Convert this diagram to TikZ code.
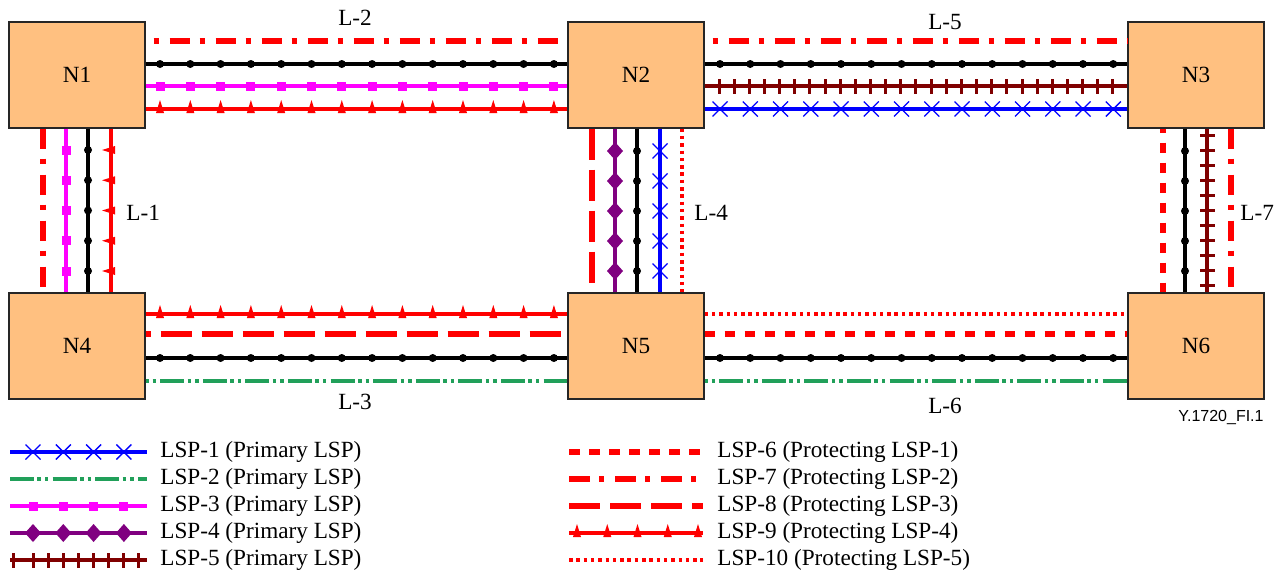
\documentclass[tikz,border=0pt]{standalone}
\usepackage{fontspec}
\setmainfont{Liberation Serif}
\setsansfont{Liberation Sans}
\usetikzlibrary{positioning,calc}
\definecolor{nodefill}{HTML}{FFC080}
\definecolor{lspblue}{HTML}{0000FF}
\definecolor{lspgreen}{HTML}{21A05A}
\definecolor{lspmagenta}{HTML}{FF00FF}
\definecolor{lsppurple}{HTML}{800080}
\definecolor{lspdark}{HTML}{800000}
\definecolor{lspred}{HTML}{FF0000}

\begin{document}
\begin{tikzpicture}[x=0.5pt,y=-0.5pt,font=\fontsize{11.6}{13}\selectfont,
  nebox/.style={draw=black!85,line width=0.6pt,fill=nodefill,minimum width=68pt,minimum height=53pt,inner sep=0pt},
  lbl/.style={inner sep=0pt},
  link/.style={black,line width=2pt},
  lsp1/.style={lspblue,line width=2pt},
  lsp2/.style={lspgreen,line width=1.8pt,dash pattern=on 12pt off 1.7pt on 1.8pt off 2pt on 1.7pt off 2.1pt},
  lsp3/.style={lspmagenta,line width=2pt},
  lsp4/.style={lsppurple,line width=2pt},
  lsp5/.style={lspdark,line width=2pt},
  lsp6/.style={lspred,line width=3pt,dash pattern=on 5.35pt off 4.65pt},
  lsp7/.style={lspred,line width=3pt,dash pattern=on 10.35pt off 4.65pt on 2.65pt off 5.35pt},
  lsp8/.style={lspred,line width=2.9pt,dash pattern=on 15.5pt off 5pt},
  lsp9/.style={lspred,line width=2pt},
  lsp10/.style={lspred,line width=1.8pt,dash pattern=on 1.75pt off 1.9pt},
  dotmark/.pic={\fill[black] (0,0) circle[radius=4];},
  sqmark/.pic={\fill[lspmagenta] (-4.5,-4.5) rectangle (4.5,4.5);},
  triup/.pic={\fill[lspred] (-4,4) -- (4,4) -- (0,-9) -- cycle;},
  trileft/.pic={\fill[lspred] (4,-4) -- (4,4) -- (-9,0) -- cycle;},
  xmark/.pic={\draw[lspblue,line width=0.7pt] (-7.5,-7.5) -- (7.5,7.5) (-7.5,7.5) -- (7.5,-7.5);},
  dmdmark/.pic={\fill[lsppurple] (-8,0) -- (0,-9) -- (8,0) -- (0,9) -- cycle;},
  vtick/.pic={\fill[lspdark] (-1.5,-7.5) rectangle (1.5,7.5);},
  htick/.pic={\fill[lspdark] (-7.5,-1.5) rectangle (7.5,1.5);}]
\useasboundingbox (0,0) rectangle (1281,573);

% network elements
\node[nebox] (N1) at (77,75) {N1};
\node[nebox] (N2) at (636,75) {N2};
\node[nebox] (N3) at (1196,75) {N3};
\node[nebox] (N4) at (77,346) {N4};
\node[nebox] (N5) at (636,346) {N5};
\node[nebox] (N6) at (1196,346) {N6};

% L-2 and L-5
\draw[lsp7,dash phase=11pt] (N1.east |- 0,41) -- (N2.west |- 0,41);
\draw[link] (N1.east |- 0,64) -- (N2.west |- 0,64);
\draw[lsp3] (N1.east |- 0,86) -- (N2.west |- 0,86);
\draw[lsp9] (N1.east |- 0,109) -- (N2.west |- 0,109);
\draw[lsp7,dash phase=11pt] (N2.east |- 0,41) -- (N3.west |- 0,41);
\draw[link] (N2.east |- 0,64) -- (N3.west |- 0,64);
\draw[lsp5] (N2.east |- 0,86) -- (N3.west |- 0,86);
\draw[lsp1] (N2.east |- 0,109) -- (N3.west |- 0,109);
\foreach \k in {0,...,13}{
  \pic at ({160+30.3*\k},64) {dotmark};
  \pic at ({160+30.3*\k},86) {sqmark};
  \pic at ({160+30.3*\k},109) {triup};
  \pic at ({720+30.25*\k},64) {dotmark};
  \pic at ({720+30.25*\k},109) {xmark};
}
\foreach \k in {0,...,26}{\pic at ({719+15.15*\k},86) {vtick};}

% L-3 and L-6
\draw[lsp9] (N4.east |- 0,314) -- (N5.west |- 0,314);
\draw[lsp8,dash phase=13pt] (N4.east |- 0,334) -- (N5.west |- 0,334);
\draw[link] (N4.east |- 0,358) -- (N5.west |- 0,358);
\draw[lsp2,dash phase=14pt] (N4.east |- 0,381) -- (N5.west |- 0,381);
\draw[lsp10] (N5.east |- 0,314) -- (N6.west |- 0,314);
\draw[lsp6] (N5.east |- 0,334) -- (N6.west |- 0,334);
\draw[link] (N5.east |- 0,358) -- (N6.west |- 0,358);
\draw[lsp2,dash phase=14pt] (N5.east |- 0,381) -- (N6.west |- 0,381);
\foreach \k in {0,...,13}{
  \pic at ({160+30.3*\k},314) {triup};
  \pic at ({160+30.3*\k},358) {dotmark};
  \pic at ({720+30.25*\k},358) {dotmark};
}

% L-1, L-4 and L-7
\draw[lsp7] (N1.south -| 43,0) -- (N4.north -| 43,0);
\draw[lsp3] (N1.south -| 66,0) -- (N4.north -| 66,0);
\draw[link] (N1.south -| 88,0) -- (N4.north -| 88,0);
\draw[lsp9] (N1.south -| 111,0) -- (N4.north -| 111,0);
\draw[lsp8] (N2.south -| 592,0) -- (N5.north -| 592,0);
\draw[lsp4] (N2.south -| 615,0) -- (N5.north -| 615,0);
\draw[link] (N2.south -| 637,0) -- (N5.north -| 637,0);
\draw[lsp1] (N2.south -| 660,0) -- (N5.north -| 660,0);
\draw[lsp10] (N2.south -| 682,0) -- (N5.north -| 682,0);
\draw[lsp6,dash phase=3pt] (N3.south -| 1163,0) -- (N6.north -| 1163,0);
\draw[link] (N3.south -| 1185,0) -- (N6.north -| 1185,0);
\draw[lsp5] (N3.south -| 1207,0) -- (N6.north -| 1207,0);
\draw[lsp7] (N3.south -| 1231,0) -- (N6.north -| 1231,0);
\foreach \k in {0,...,4}{
  \pic at (66,{150+30.25*\k}) {sqmark};
  \pic at (88,{150+30.25*\k}) {dotmark};
  \pic at (111,{150+30.25*\k}) {trileft};
  \pic at (615,{151+30*\k}) {dmdmark};
  \pic at (637,{151+30*\k}) {dotmark};
  \pic at (660,{151+30*\k}) {xmark};
  \pic at (1185,{151+30*\k}) {dotmark};
}
\foreach \k in {0,...,10}{\pic at (1207,{135+15*\k}) {htick};}

% link labels
\node[lbl] (L2) at (355,18) {L-2};
\node[lbl] (L5) at (945,22) {L-5};
\node[lbl,anchor=west] (L1) at (126,213) {L-1};
\node[lbl,anchor=west] (L4) at (694,213) {L-4};
\node[lbl,anchor=west] (L7) at (1240,213) {L-7};
\node[lbl] (L3) at (355,402) {L-3};
\node[lbl] (L6) at (945,406) {L-6};
\node[lbl,font=\sffamily\fontsize{8}{9}\selectfont] (fig) at (1221,418) {Y.1720\_FI.1};

% legend
\foreach \sty/\txt [count=\i] in {lsp1/{LSP-1 (Primary LSP)},lsp2/{LSP-2 (Primary LSP)},lsp3/{LSP-3 (Primary LSP)},lsp4/{LSP-4 (Primary LSP)},lsp5/{LSP-5 (Primary LSP)}}{
  \node[lbl,anchor=west] (lg\i) at (160,{452+27*(\i-1)}) {\txt};
  \draw[\sty] ($(lg\i.west)+(-150,0)$) -- ($(lg\i.west)+(-13,0)$);
}
\foreach \sty/\txt [count=\i from 6] in {lsp6/{LSP-6 (Protecting LSP-1)},lsp7/{LSP-7 (Protecting LSP-2)},lsp8/{LSP-8 (Protecting LSP-3)},lsp9/{LSP-9 (Protecting LSP-4)},lsp10/{LSP-10 (Protecting LSP-5)}}{
  \node[lbl,anchor=west] (lg\i) at (717,{452+27*(\i-6)}) {\txt};
  \draw[\sty] ($(lg\i.west)+(-148,0)$) -- ($(lg\i.west)+(-14,0)$);
}
\foreach \k in {0,...,3}{
  \pic at ({33+30.3*\k},452) {xmark};
  \pic at ({33+30.3*\k},506) {sqmark};
  \pic at ({33+30.3*\k},533) {dmdmark};
}
\foreach \x in {13,33,48,63,78,93,108,123,138}{\pic at (\x,560) {vtick};}
\foreach \k in {0,...,4}{\pic at ({577+30.25*\k},533) {triup};}
\end{tikzpicture}
\end{document}
